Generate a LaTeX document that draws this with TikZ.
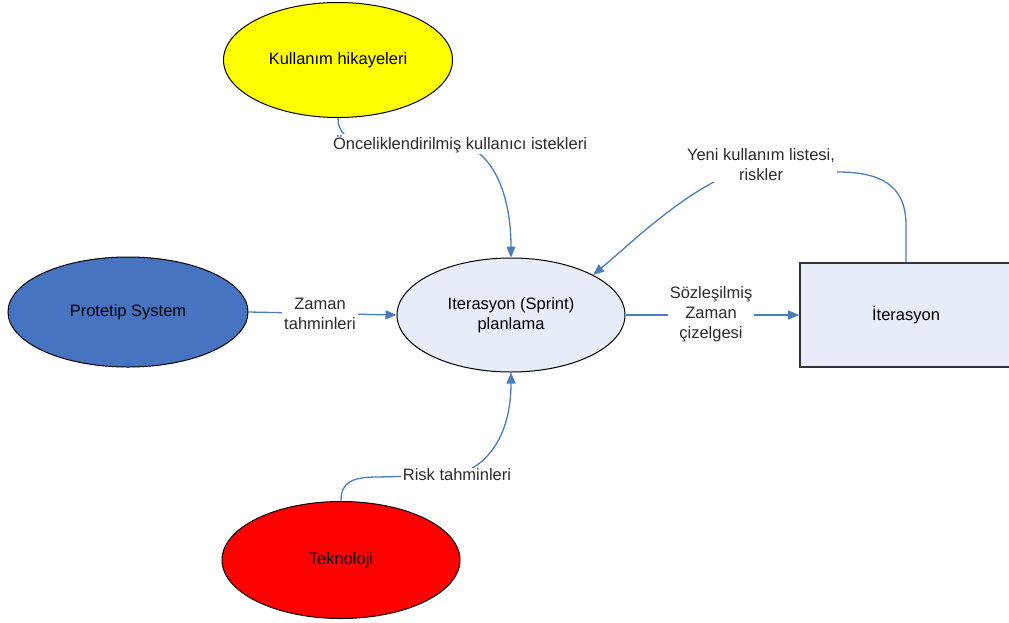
\documentclass[tikz,border=0pt]{standalone}
\usepackage{fontspec}
\setmainfont{Liberation Sans}
\usetikzlibrary{shapes.geometric,arrows.meta}
\pgfdeclarelayer{wires}
\pgfsetlayers{wires,main}
\definecolor{wire}{RGB}{74,126,187}
\definecolor{storyyellow}{RGB}{255,255,0}
\definecolor{protoblue}{RGB}{70,116,192}
\definecolor{planfill}{RGB}{230,236,248}
\definecolor{boxedge}{RGB}{51,51,51}
\definecolor{tagtext}{RGB}{43,43,43}
\begin{document}
\begin{tikzpicture}[x=1pt,y=-1pt,
  font=\fontsize{16.5}{20}\selectfont,
  bubble/.style={ellipse, draw=black, line width=1pt, inner sep=0pt, align=center},
  tag/.style={fill=white, text=tagtext, inner xsep=2pt, inner ysep=1pt, align=center},
  conn/.style={draw=wire, line width=1.3pt, -{Triangle[length=11pt,width=9pt]}}]
\useasboundingbox (0,0) rectangle (1009,622);

% process bubbles
\node[bubble, fill=storyyellow, minimum width=229pt, minimum height=115pt] (stories) at (338,60) {Kullanım hikayeleri};
\node[bubble, fill=protoblue, minimum width=240pt, minimum height=110pt] (proto) at (128,312) {Protetip System};
\node[bubble, fill=planfill, minimum width=228pt, minimum height=114pt] (plan) at (511,315) {Iterasyon (Sprint)\\planlama};
\node[bubble, fill=red, minimum width=238pt, minimum height=117pt] (tech) at (341,560) {Teknoloji};
\node[draw=boxedge, line width=1.6pt, fill=planfill, minimum width=212pt, minimum height=104pt] (iter) at (906,315) {İterasyon};

% flow labels
\node[tag] (lprio) at (460,144) {Önceliklendirilmiş kullanıcı istekleri};
\node[tag] (ltime) at (320,314) {Zaman\\tahminleri};
\node[tag] (lsched) at (711,314) {Sözleşilmiş\\Zaman\\çizelgesi};
\node[tag] (lrisk) at (457,475) {Risk tahminleri};
\node[tag] (lnew) at (761,165) {Yeni kullanım listesi,\\riskler};

% data flows, drawn beneath the labels
\begin{pgfonlayer}{wires}
\draw[conn] (stories.south) .. controls (338,132) and (346,139) .. (362,141) -- (lprio.center)
  .. controls (490,150) and (511,190) .. (plan.north);
\draw[conn] (proto.east) -- (plan.west);
\draw[conn] (tech.north) .. controls (341,482) and (352,477) .. (378,477) -- (lrisk.center)
  .. controls (492,464) and (511,430) .. (plan.south);
\draw[conn] (plan.east) -- (iter.west);
\draw[conn] (iter.north) -- (906,225) .. controls (906,185) and (880,172) .. (838,172) -- (lnew.center)
  .. controls (700,175) and (635,240) .. (plan.26);
\end{pgfonlayer}
\end{tikzpicture}
\end{document}
